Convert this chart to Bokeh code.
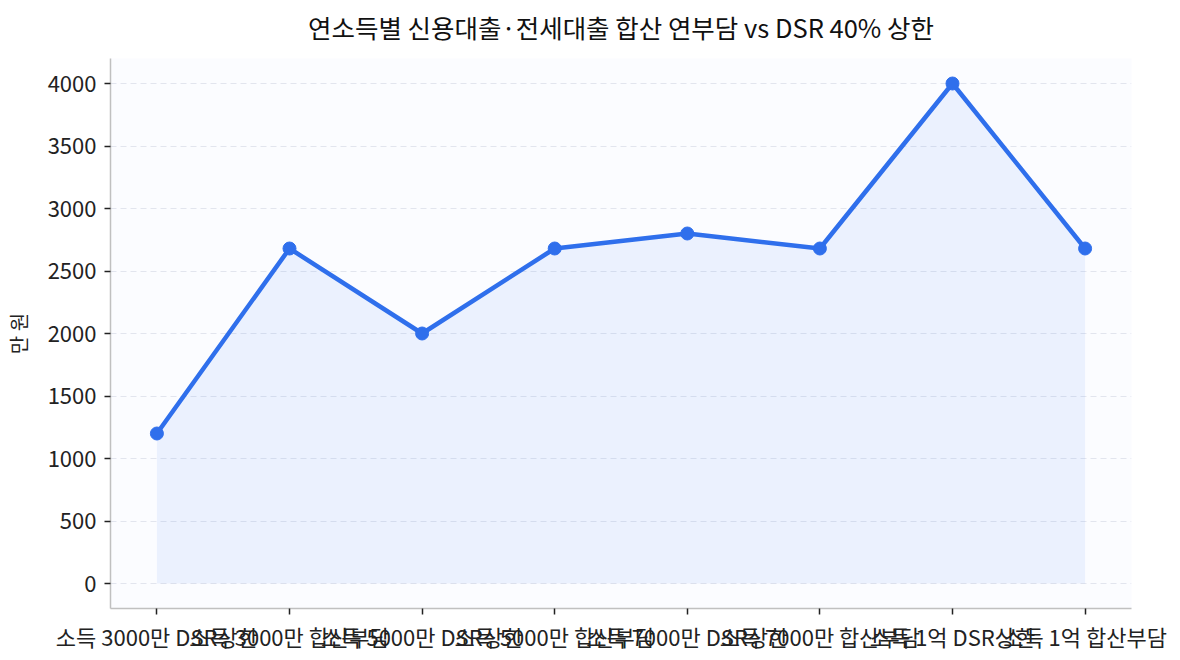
from bokeh.plotting import figure
from bokeh.models import FixedTicker, Range1d, Title
from bokeh.embed import file_html
from bokeh.resources import INLINE

labels = ["소득 3000만 DSR상한", "소득 3000만 합산부담",
          "소득 5000만 DSR상한", "소득 5000만 합산부담",
          "소득 7000만 DSR상한", "소득 7000만 합산부담",
          "소득 1억 DSR상한", "소득 1억 합산부담"]
values = [1200, 2680, 2000, 2680, 2800, 2680, 4000, 2680]
y_ticks = [0, 500, 1000, 1500, 2000, 2500, 3000, 3500, 4000]

FONT = "Noto Sans CJK KR"
BLUE = "#2f6fec"

xs = list(range(len(labels)))

p = figure(width=1180, height=660, output_backend="svg", toolbar_location=None,
           x_range=Range1d(-0.35, len(labels) - 1 + 0.35),
           y_range=Range1d(-200, 4200),
           min_border_left=108, min_border_right=49,
           min_border_top=58, min_border_bottom=52)

p.background_fill_color = "#fbfcff"
p.border_fill_color = "white"
p.outline_line_color = None

# small empty spacer between the frame and the title
p.add_layout(Title(text=" ", text_font_size="1px", standoff=6), "above")
p.add_layout(Title(text="연소득별 신용대출·전세대출 합산 연부담 vs DSR 40% 상한",
                   text_font=FONT, text_font_size="25.5px", text_font_style="normal",
                   text_color="#111111", align="center"), "above")

p.varea(x=xs, y1=[0] * len(values), y2=values, fill_color=BLUE, fill_alpha=0.08)
p.line(xs, values, line_color=BLUE, line_width=4.5)
p.scatter(xs, values, size=13, color=BLUE)

p.xaxis.ticker = FixedTicker(ticks=xs)
p.xaxis.major_label_overrides = {i: lab for i, lab in enumerate(labels)}
p.yaxis.ticker = FixedTicker(ticks=y_ticks)
p.yaxis.axis_label = "만 원"

for ax in (p.xaxis, p.yaxis):
    ax.major_label_text_font = FONT
    ax.major_label_text_font_size = "22px"
    ax.major_label_text_color = "#222222"
    ax.axis_line_color = "#c0c0c0"
    ax.axis_line_width = 1.5
    ax.major_tick_line_color = "#222222"
    ax.major_tick_line_width = 1.5
    ax.major_tick_in = 0
    ax.major_tick_out = 6
    ax.minor_tick_line_color = None
    ax.axis_label_text_font = FONT
    ax.axis_label_text_font_size = "20px"
    ax.axis_label_text_font_style = "normal"
    ax.axis_label_text_color = "#222222"

p.yaxis.major_label_standoff = 8
p.yaxis.axis_label_standoff = 12

p.xgrid.grid_line_color = None
p.ygrid.grid_line_color = "#e2e5ee"
p.ygrid.grid_line_dash = "6 4"
p.ygrid.grid_line_width = 1.2

open("out.html", "w").write(file_html(p, INLINE))
